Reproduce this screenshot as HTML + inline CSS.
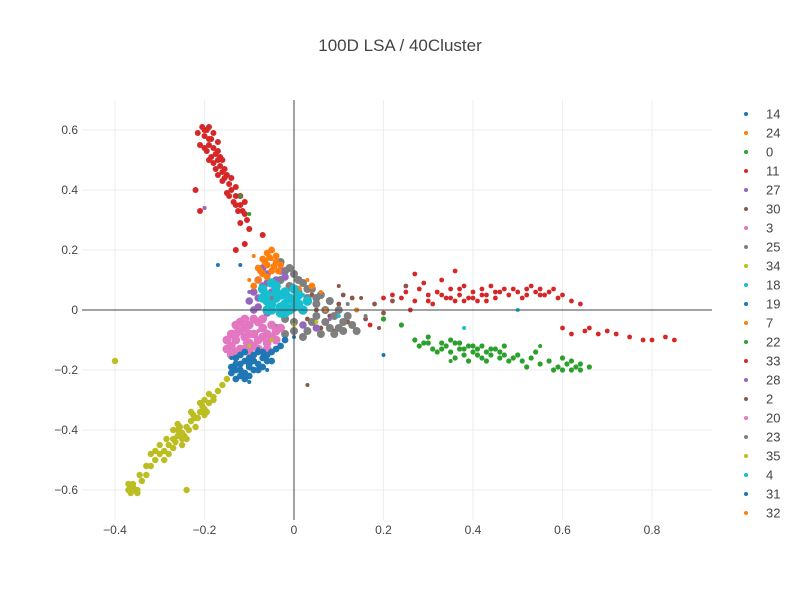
<!DOCTYPE html>
<html><head><meta charset="utf-8"><style>
body{margin:0;background:#fff;font-family:"Liberation Sans",sans-serif}
svg text{font-family:"Liberation Sans",sans-serif;fill:#444}
</style></head><body>
<svg id="chart" width="800" height="600">
<rect width="800" height="600" fill="#fff"/>
<text x="400" y="51" text-anchor="middle" font-size="17">100D LSA / 40Cluster</text>
<g id="grid"></g><g id="marks"></g><g id="axes"></g><g id="legend"></g>
</svg>
<script>
const seriesNames=["14","24","0","11","27","30","3","25","34","18","19","7","22","33","28","2","20","23","35","4","31","32"];
const seriesColors=["#1f77b4","#ff7f0e","#2ca02c","#d62728","#9467bd","#8c564b","#e377c2","#7f7f7f","#bcbd22","#17becf","#1f77b4","#ff7f0e","#2ca02c","#d62728","#9467bd","#8c564b","#e377c2","#7f7f7f","#bcbd22","#17becf","#1f77b4","#ff7f0e"];
const xTicks=[-0.4,-0.2,0,0.2,0.4,0.6,0.8];
const yTicks=[-0.6,-0.4,-0.2,0,0.2,0.4,0.6];
const pts14=[[-0.13,-0.2],[-0.12,-0.18],[-0.11,-0.21],[-0.1,-0.19],[-0.09,-0.17],[-0.12,-0.22],[-0.1,-0.16],[-0.08,-0.18],[-0.07,-0.16],[-0.11,-0.17],[-0.13,-0.18],[-0.14,-0.21],[-0.09,-0.2],[-0.06,-0.15],[-0.08,-0.14],[-0.12,-0.15],[-0.1,-0.22],[-0.05,-0.17],[-0.13,-0.23],[-0.04,-0.13],[-0.11,-0.14],[-0.07,-0.19],[-0.14,-0.19],[-0.12,-0.2],[-0.1,-0.18],[-0.09,-0.15],[-0.08,-0.2],[-0.06,-0.17],[-0.13,-0.16],[-0.11,-0.23],[-0.05,-0.14],[-0.03,-0.12],[-0.02,-0.1],[-0.07,-0.14]];
const pts24=[[-0.07,0.17],[-0.06,0.19],[-0.05,0.2],[-0.06,0.15],[-0.08,0.14],[-0.04,0.16],[-0.05,0.13],[-0.07,0.12],[-0.03,0.15],[-0.06,0.11],[-0.08,0.1],[-0.04,0.18],[-0.09,0.08],[0.01,0.07],[0.04,0.08],[-0.055,0.175],[-0.065,0.16],[-0.045,0.145],[-0.075,0.13],[-0.035,0.13]];
const pts0=[[0.27,-0.1],[0.29,-0.11],[0.3,-0.09],[0.31,-0.13],[0.33,-0.11],[0.34,-0.12],[0.35,-0.14],[0.36,-0.11],[0.37,-0.13],[0.38,-0.15],[0.39,-0.12],[0.4,-0.14],[0.41,-0.13],[0.42,-0.16],[0.43,-0.14],[0.44,-0.15],[0.45,-0.13],[0.46,-0.16],[0.47,-0.15],[0.48,-0.17],[0.5,-0.15],[0.51,-0.17],[0.53,-0.16],[0.55,-0.18],[0.57,-0.17],[0.59,-0.19],[0.61,-0.18],[0.62,-0.2],[0.63,-0.19],[0.64,-0.2],[0.66,-0.19],[0.6,-0.16],[0.35,-0.1],[0.32,-0.14],[0.42,-0.12],[0.36,-0.16],[0.54,-0.14],[0.58,-0.2],[0.47,-0.12],[0.39,-0.17],[0.24,-0.05],[0.2,-0.03],[0.52,-0.19],[0.28,-0.12],[0.3,-0.11],[0.33,-0.13],[0.37,-0.11],[0.4,-0.12],[0.41,-0.15],[0.44,-0.13],[0.46,-0.14],[0.49,-0.16],[0.62,-0.17],[0.64,-0.18],[0.6,-0.2],[0.38,-0.13],[0.43,-0.17]];
const pts11=[[-0.205,0.61],[-0.195,0.6],[-0.19,0.61],[-0.2,0.58],[-0.185,0.57],[-0.19,0.55],[-0.18,0.54],[-0.175,0.52],[-0.185,0.51],[-0.17,0.5],[-0.165,0.48],[-0.175,0.47],[-0.16,0.46],[-0.15,0.45],[-0.16,0.43],[-0.145,0.42],[-0.14,0.4],[-0.15,0.39],[-0.13,0.38],[-0.135,0.36],[-0.12,0.35],[-0.125,0.33],[-0.11,0.32],[-0.105,0.3],[-0.12,0.29],[-0.1,0.27],[-0.21,0.55],[-0.19,0.5],[-0.16,0.5],[-0.155,0.44],[-0.13,0.41],[-0.2,0.6],[-0.18,0.59],[-0.17,0.56],[-0.215,0.59],[-0.195,0.53],[-0.14,0.44],[-0.12,0.38],[-0.11,0.36],[-0.22,0.4],[-0.11,0.22],[-0.13,0.2],[-0.07,0.25],[-0.21,0.33],[-0.17,0.45],[-0.18,0.49],[-0.17,0.53],[-0.19,0.57],[-0.165,0.51],[-0.155,0.47],[-0.2,0.54],[-0.145,0.38],[-0.13,0.35],[-0.115,0.33]];
const pts27=[[-0.07,0.08],[-0.06,0.12],[-0.05,0.06],[-0.08,0.04],[-0.04,0.1],[-0.07,0.14],[-0.05,0.02],[-0.09,0.0],[-0.06,-0.01],[-0.03,0.13],[0.02,-0.05],[0.05,-0.06],[-0.08,0.1],[-0.09,0.06],[-0.06,0.09],[-0.1,0.03],[-0.08,0.01],[-0.02,0.11]];
const pts30=[[0.05,0.0],[0.08,-0.02],[0.1,0.02],[0.12,-0.04],[0.14,0.0],[0.16,-0.03],[0.18,0.02],[0.2,-0.01],[0.06,-0.06],[0.11,0.05],[0.09,-0.07],[0.13,0.04],[0.04,0.05],[0.22,0.03],[0.25,0.08],[0.03,-0.03]];
const pts3=[[-0.14,-0.12],[-0.13,-0.1],[-0.12,-0.13],[-0.11,-0.09],[-0.1,-0.11],[-0.09,-0.08],[-0.08,-0.1],[-0.07,-0.06],[-0.06,-0.08],[-0.12,-0.07],[-0.1,-0.05],[-0.08,-0.04],[-0.13,-0.14],[-0.11,-0.13],[-0.09,-0.12],[-0.07,-0.09],[-0.05,-0.05],[-0.1,-0.08],[-0.15,-0.1],[-0.06,-0.11],[-0.04,-0.07],[-0.12,-0.04],[-0.09,-0.03],[-0.14,-0.08],[-0.15,-0.13],[-0.13,-0.08],[-0.11,-0.06],[-0.08,-0.13],[-0.05,-0.09],[-0.03,-0.06],[-0.07,-0.03],[-0.11,-0.03],[-0.13,-0.05],[-0.14,-0.15],[-0.1,-0.14],[-0.06,-0.13],[-0.04,-0.1]];
const pts25=[[-0.03,0.1],[-0.01,0.08],[0.01,0.06],[0.03,0.04],[0.05,0.02],[0.07,0.0],[0.09,-0.02],[0.11,-0.04],[0.0,0.12],[-0.02,0.13],[0.02,0.09],[0.06,0.05],[0.08,-0.06],[0.04,-0.04],[0.0,-0.07],[-0.02,-0.08],[0.02,-0.09],[0.06,-0.08],[0.1,-0.06],[0.13,-0.05],[0.12,-0.02],[0.04,0.07],[-0.04,-0.06],[0.08,0.03],[0.14,-0.07],[0.01,0.1],[0.03,0.07],[-0.01,0.14],[0.05,0.04],[0.07,-0.04],[0.09,-0.08],[0.11,-0.07],[0.0,-0.04],[0.03,-0.07],[-0.02,-0.03],[0.05,-0.02],[0.1,0.0],[-0.03,0.16]];
const pts34=[[-0.37,-0.6],[-0.36,-0.59],[-0.35,-0.6],[-0.36,-0.58],[-0.34,-0.57],[-0.33,-0.55],[-0.32,-0.52],[-0.31,-0.5],[-0.3,-0.48],[-0.29,-0.47],[-0.28,-0.45],[-0.27,-0.43],[-0.26,-0.42],[-0.25,-0.41],[-0.26,-0.4],[-0.24,-0.39],[-0.25,-0.43],[-0.23,-0.37],[-0.22,-0.36],[-0.21,-0.34],[-0.2,-0.33],[-0.19,-0.31],[-0.18,-0.29],[-0.17,-0.27],[-0.16,-0.25],[-0.15,-0.23],[-0.27,-0.4],[-0.24,-0.43],[-0.22,-0.39],[-0.2,-0.35],[-0.28,-0.48],[-0.3,-0.45],[-0.23,-0.34],[-0.21,-0.31],[-0.19,-0.28],[-0.35,-0.61],[-0.37,-0.58],[-0.25,-0.45],[-0.26,-0.38],[-0.4,-0.17],[-0.24,-0.6],[-0.32,-0.48],[-0.265,-0.44],[-0.255,-0.39],[-0.245,-0.42],[-0.235,-0.4],[-0.225,-0.35],[-0.215,-0.36],[-0.205,-0.32],[-0.195,-0.34],[-0.285,-0.43],[-0.29,-0.5],[-0.31,-0.47],[-0.33,-0.52],[-0.345,-0.55],[-0.355,-0.6],[-0.365,-0.61],[-0.27,-0.46],[-0.18,-0.3],[-0.2,-0.3]];
const pts18=[[-0.06,0.05],[-0.04,0.04],[-0.02,0.06],[0.0,0.03],[-0.05,0.02],[-0.03,0.01],[-0.01,0.0],[0.01,0.02],[-0.07,0.07],[-0.04,0.08],[-0.02,0.02],[0.02,0.0],[-0.06,0.0],[0.0,0.07],[-0.03,-0.01],[0.03,0.03],[-0.05,0.09],[-0.06,0.03],[-0.03,0.05],[-0.01,0.04],[0.01,0.05],[-0.04,0.06],[-0.02,-0.01],[0.0,0.01],[-0.05,0.0],[-0.07,0.04]];
const pts19=[[-0.14,-0.16],[-0.1,-0.24],[-0.06,-0.2],[-0.17,0.15],[0.2,-0.15]];
const pts7=[[0.03,0.1],[0.06,0.06],[-0.09,0.18],[0.14,0.0]];
const pts22=[[-0.12,0.38],[-0.1,0.32],[0.55,-0.12],[0.35,-0.17]];
const pts33=[[0.22,0.05],[0.24,0.04],[0.25,0.06],[0.27,0.03],[0.28,0.07],[0.3,0.05],[0.31,0.02],[0.32,0.06],[0.34,0.04],[0.35,0.07],[0.36,0.03],[0.37,0.05],[0.38,0.08],[0.39,0.04],[0.4,0.06],[0.41,0.03],[0.42,0.07],[0.43,0.05],[0.44,0.08],[0.45,0.04],[0.46,0.06],[0.47,0.07],[0.48,0.05],[0.5,0.06],[0.51,0.04],[0.52,0.07],[0.53,0.08],[0.54,0.06],[0.55,0.07],[0.56,0.05],[0.57,0.06],[0.59,0.04],[0.6,0.05],[0.62,0.03],[0.64,0.02],[0.33,0.1],[0.29,0.09],[0.27,0.12],[0.36,0.13],[0.26,0.0],[0.6,-0.06],[0.65,-0.07],[0.68,-0.08],[0.72,-0.08],[0.75,-0.09],[0.78,-0.1],[0.8,-0.1],[0.83,-0.09],[0.85,-0.1],[0.62,-0.08],[0.66,-0.06],[0.7,-0.07],[0.17,-0.05],[0.2,0.04],[0.3,0.03],[0.33,0.05],[0.35,0.04],[0.37,0.07],[0.4,0.04],[0.42,0.05],[0.45,0.06],[0.49,0.07],[0.52,0.05],[0.55,0.05],[0.58,0.07],[0.38,0.03],[0.43,0.03]];
const pts28=[[-0.1,0.06],[0.08,-0.03],[-0.2,0.34]];
const pts2=[[0.15,0.04],[0.1,0.08],[0.19,-0.06],[0.03,-0.25]];
const pts20=[[-0.13,-0.06],[-0.11,-0.11],[-0.08,-0.07],[-0.2,0.34]];
const pts23=[[-0.05,0.04],[0.12,0.02],[0.16,-0.02]];
const pts35=[[-0.1,-0.12],[-0.05,-0.1],[0.0,-0.05],[0.05,-0.04]];
const pts4=[[-0.02,0.04],[0.02,0.05],[0.1,-0.02],[0.5,0.0],[0.38,-0.06]];
const pts31=[[-0.12,-0.19],[-0.08,-0.13],[0.0,-0.09],[-0.12,0.15]];
const pts32=[[-0.05,0.17],[-0.1,0.1],[0.07,0.0]];
const allPts=[pts14,pts24,pts0,pts11,pts27,pts30,pts3,pts25,pts34,pts18,pts19,pts7,pts22,pts33,pts28,pts2,pts20,pts23,pts35,pts4,pts31,pts32];
const drawOrder=[5,7,4,1,11,6,16,0,10,20,9,19,2,3,8,12,13,14,15,17,18,21];
const bigR=[3.4,3.4,2.6,3,3.8,2.4,4.4,4,3.2,4.8,2,2,2,2.4,2,2,2,2,2,2,2,2];

const NS="http://www.w3.org/2000/svg";
const L=82,R=712,T=100,B=520;
const sx=v=>294+v*447.5, sy=v=>310-v*300;
function mk(tag,attrs,parent){const e=document.createElementNS(NS,tag);for(const k in attrs)e.setAttribute(k,attrs[k]);parent.appendChild(e);return e;}
const grid=document.getElementById('grid'),axes=document.getElementById('axes'),marks=document.getElementById('marks'),legend=document.getElementById('legend');
xTicks.forEach(t=>{
  if(t!==0){const g=mk('line',{x1:sx(t),x2:sx(t),y1:T,y2:B,stroke:'#eee','stroke-width':1},grid);
  
  }
  const tx=mk('text',{x:sx(t),y:534,'text-anchor':'middle','font-size':12},axes);tx.textContent=t===0?'0':(t<0?'−'+Math.abs(t):String(t));
  
  
});
yTicks.forEach(t=>{
  if(t!==0){const g=mk('line',{x1:L,x2:R,y1:sy(t),y2:sy(t),stroke:'#eee','stroke-width':1},grid);
  
  }
  const tx=mk('text',{x:78,y:sy(t)+4,'text-anchor':'end','font-size':12},axes);tx.textContent=t===0?'0':(t<0?'−'+Math.abs(t):String(t));
  
  
});
const zx=mk('line',{x1:sx(0),x2:sx(0),y1:T,y2:B,stroke:'#444','stroke-width':1},axes);


const zy=mk('line',{x1:L,x2:R,y1:sy(0),y2:sy(0),stroke:'#444','stroke-width':1},axes);


drawOrder.forEach(i=>{
  const g=mk('g',{},marks);
  
  
  allPts[i].forEach(p=>{
    const c=mk('circle',{cx:sx(p[0]),cy:sy(p[1]),r:bigR[i],fill:seriesColors[i]},g);
    
    
  });
});
seriesNames.forEach((n,i)=>{
  const y=114+i*19;
  const g=mk('g',{},legend);
  
  
  mk('circle',{cx:746,cy:y,r:2,fill:seriesColors[i]},g);
  const t=mk('text',{x:766,y:y+4.5,'font-size':13},g);t.textContent=n;
});
</script>
</body></html>
